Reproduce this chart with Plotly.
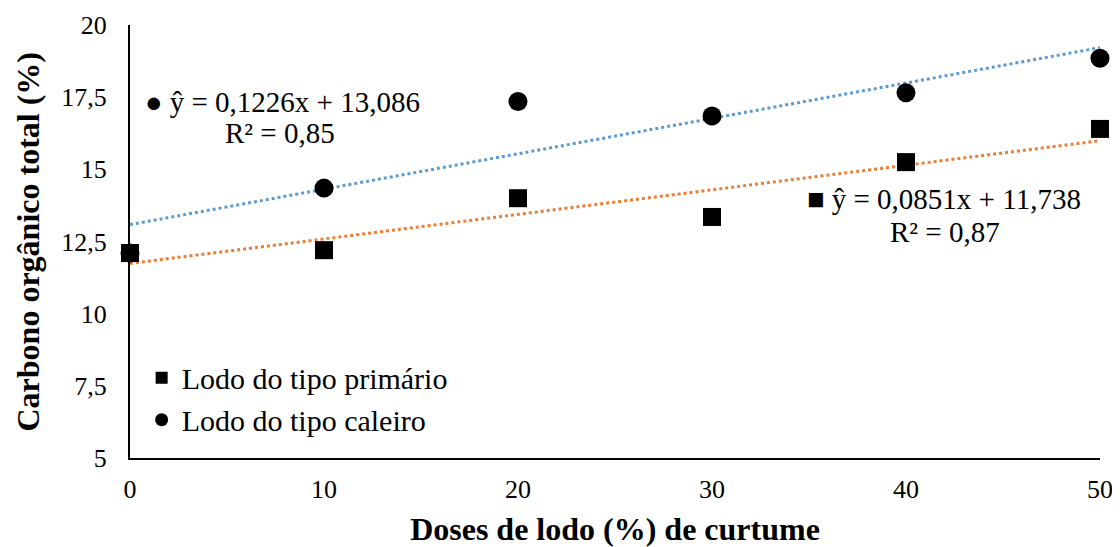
import plotly.graph_objects as go

doses = [0, 10, 20, 30, 40, 50]
primario = [12.1, 12.2, 14.0, 13.35, 15.25, 16.4]
caleiro = [12.1, 14.35, 17.35, 16.85, 17.65, 18.85]

# regression coefficients shown on chart
a_prim, b_prim = 0.0851, 11.738
a_cal, b_cal = 0.1226, 13.086

y_tickvals = [5, 7.5, 10, 12.5, 15, 17.5, 20]
y_ticktext = ["5", "7,5", "10", "12,5", "15", "17,5", "20"]
x_tickvals = [0, 10, 20, 30, 40, 50]

FONT = "Liberation Serif"

fig = go.Figure()

trend_x = [doses[0], doses[-1]]
fig.add_trace(go.Scatter(x=trend_x, y=[a_cal * v + b_cal for v in trend_x], mode="lines",
                         line=dict(color="#5B9BD5", width=3, dash="dot"), showlegend=False, hoverinfo="skip"))
fig.add_trace(go.Scatter(x=trend_x, y=[a_prim * v + b_prim for v in trend_x], mode="lines",
                         line=dict(color="#ED7D31", width=3, dash="dot"), showlegend=False, hoverinfo="skip"))

fig.add_trace(go.Scatter(x=doses, y=caleiro, mode="markers", name="Lodo do tipo caleiro",
                         marker=dict(symbol="circle", size=19, color="black"), showlegend=False, cliponaxis=False))
fig.add_trace(go.Scatter(x=doses, y=primario, mode="markers", name="Lodo do tipo primário",
                         marker=dict(symbol="square", size=18, color="black"), showlegend=False, cliponaxis=False))

# legend-only traces (smaller symbols, as in reference)
fig.add_trace(go.Scatter(x=[None], y=[None], mode="markers", name="Lodo do tipo primário",
                         marker=dict(symbol="square", size=12, color="black")))
fig.add_trace(go.Scatter(x=[None], y=[None], mode="markers", name="Lodo do tipo caleiro",
                         marker=dict(symbol="circle", size=13, color="black")))

ann_font = dict(family=FONT, size=29, color="black")
fig.add_annotation(xref="paper", yref="paper", x=0.0134, y=0.822, xanchor="left", yanchor="middle",
                   text="● ŷ = 0,1226x + 13,086", showarrow=False, font=ann_font)
fig.add_annotation(xref="paper", yref="paper", x=0.155, y=0.75, xanchor="center", yanchor="middle",
                   text="R² = 0,85", showarrow=False, font=ann_font)
fig.add_annotation(xref="paper", yref="paper", x=0.696, y=0.598, xanchor="left", yanchor="middle",
                   text="■ ŷ = 0,0851x + 11,738", showarrow=False, font=ann_font)
fig.add_annotation(xref="paper", yref="paper", x=0.84, y=0.522, xanchor="center", yanchor="middle",
                   text="R² = 0,87", showarrow=False, font=ann_font)

# y-axis title
fig.add_annotation(xref="paper", yref="paper", x=0, y=0.5, xshift=-103, xanchor="center", yanchor="middle",
                   text="<b>Carbono orgânico total (%)</b>", textangle=-90, showarrow=False,
                   font=dict(family=FONT, size=32, color="black"))

fig.update_layout(
    width=1112, height=539,
    margin=dict(l=122, r=20, t=17, b=89),
    paper_bgcolor="white", plot_bgcolor="white",
    font=dict(family=FONT, size=26, color="black"),
    legend=dict(x=0.012, y=0.137, xanchor="left", yanchor="middle", bgcolor="rgba(0,0,0,0)",
                font=dict(family=FONT, size=30, color="black"), itemwidth=30, tracegroupgap=0),
    xaxis=dict(range=[0, 50], tickvals=x_tickvals, showgrid=False, zeroline=False, automargin=False,
               showline=True, linecolor="black", linewidth=2, ticks="", ticklabelstandoff=7,
               tickfont=dict(family=FONT, size=26),
               title=dict(text="<b>Doses de lodo (%) de curtume</b>", font=dict(family=FONT, size=32), standoff=26)),
    yaxis=dict(range=[5, 20], tickvals=y_tickvals, ticktext=y_ticktext,
               showgrid=False, zeroline=False, automargin=False,
               showline=True, linecolor="black", linewidth=2, ticks="outside", ticklen=16,
               tickcolor="rgba(0,0,0,0)",
               tickfont=dict(family=FONT, size=26)),
)

fig.write_html("out.html")
